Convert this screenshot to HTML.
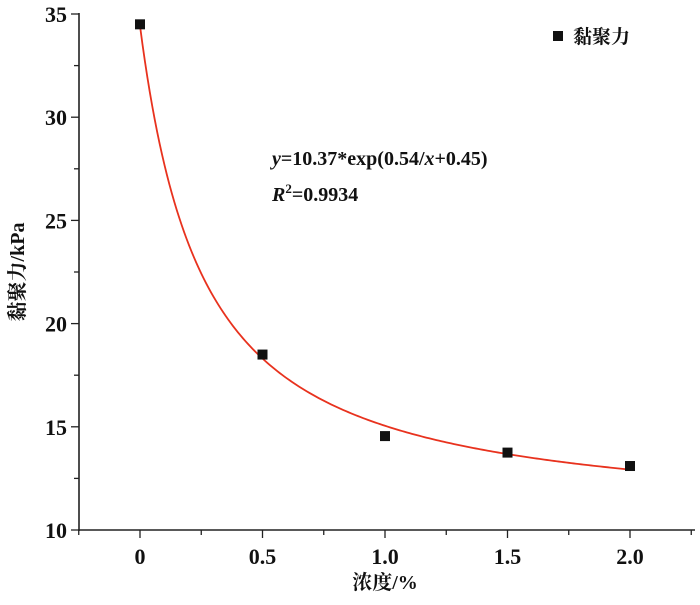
<!DOCTYPE html>
<html><head><meta charset="utf-8"><style>
body{margin:0;background:#fff;}
svg text{font-family:"Liberation Serif","Noto Serif CJK SC",serif;fill:#111;}
</style></head><body>
<svg width="700" height="600">
<g id="axes"></g>
<g id="marks"></g>
<text x="272" y="165" font-size="20" font-weight="bold"><tspan font-style="italic">y</tspan>=10.37*exp(0.54/<tspan font-style="italic">x</tspan>+0.45)</text>
<text x="272" y="201" font-size="20" font-weight="bold"><tspan font-style="italic">R</tspan><tspan font-size="13" dy="-8">2</tspan><tspan dy="8">=0.9934</tspan></text>
<rect x="553" y="31" width="10" height="10" fill="#111"/>
<text x="573" y="43" font-size="19" font-weight="bold">黏聚力</text>
<text x="385" y="589" font-size="20" font-weight="bold" text-anchor="middle">浓度/%</text>
<text transform="translate(24,272) rotate(-90)" font-size="20" text-anchor="middle" font-weight="bold">黏聚力/kPa</text>
</svg>
<script>
const xs=[0,0.5,1.0,1.5,2.0];
const ys=[34.5,18.5,14.55,13.75,13.1];
const xTicks=[0,0.5,1.0,1.5,2.0];
const xTickLabels=["0","0.5","1.0","1.5","2.0"];
const yTicks=[10,15,20,25,30,35];
const NS="http://www.w3.org/2000/svg";
const X=v=>140+(v-0)*(630-140)/2;
const Y=v=>530-(v-10)*(530-14)/25;
function mk(t,a,p){const e=document.createElementNS(NS,t);for(const k in a)e.setAttribute(k,a[k]);p.appendChild(e);return e;}
const ax=document.getElementById('axes'),mg=document.getElementById('marks');
let l=mk('line',{x1:79,y1:13,x2:79,y2:531,stroke:'#222','stroke-width':1.6},ax);

l=mk('line',{x1:78,y1:530,x2:695,y2:530,stroke:'#222','stroke-width':1.6},ax);

for(let v=10;v<=35;v+=2.5){const major=yTicks.includes(v);
 l=mk('line',{x1:major?71:74,y1:Y(v),x2:79,y2:Y(v),stroke:'#222','stroke-width':1.3},ax);
 }
yTicks.forEach(v=>{const t=mk('text',{x:67,y:Y(v)+8,'font-size':22,'font-weight':'bold','text-anchor':'end'},ax);t.textContent=v;
 });
for(let v=-0.25;v<=2.251;v+=0.25){const major=xTicks.some(t=>Math.abs(t-v)<1e-6);
 l=mk('line',{x1:X(v),y1:530,x2:X(v),y2:major?538:535,stroke:'#222','stroke-width':1.3},ax);
 }
xTicks.forEach((v,i)=>{const t=mk('text',{x:X(v),y:564,'font-size':22,'font-weight':'bold','text-anchor':'middle'},ax);t.textContent=xTickLabels[i];
 });
let d='';for(let i=0;i<=200;i++){const x=2*i/200;const y=10.37*Math.exp(0.54/(x+0.45));d+=(i?'L':'M')+X(x).toFixed(2)+','+Y(y).toFixed(2);}
const p=mk('path',{d:d,fill:'none',stroke:'#e8321e','stroke-width':1.8},mg);

xs.forEach((x,i)=>{const r=mk('rect',{x:X(x)-5,y:Y(ys[i])-5,width:10,height:10,fill:'#111'},mg);
 });
</script>
</body></html>
